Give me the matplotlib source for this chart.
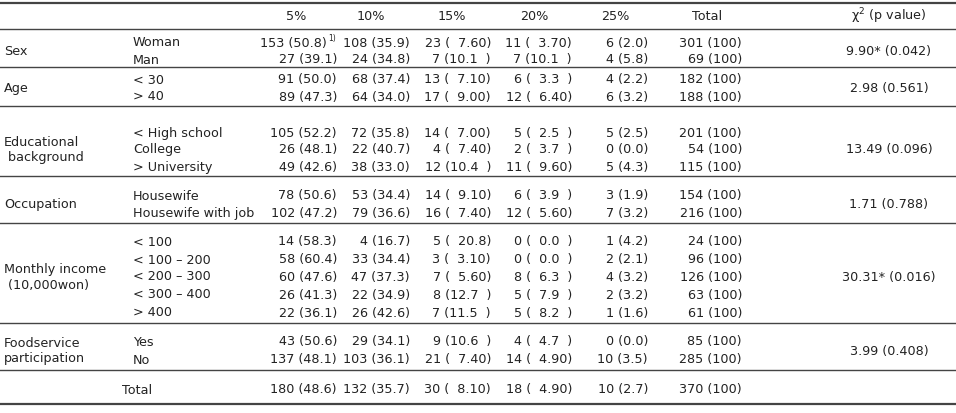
import matplotlib
matplotlib.use("Agg")
import matplotlib.pyplot as plt

columns = ["5%", "10%", "15%", "20%", "25%", "Total", "χ$^2$ (p value)"]
groups = ["Sex", "Age", "Educational\n background", "Occupation",
          "Monthly income\n (10,000won)", "Foodservice\nparticipation"]
subcats = [["Woman", "Man"], ["< 30", "> 40"],
           ["< High school", "College", "> University"],
           ["Housewife", "Housewife with job"],
           ["< 100", "< 100 – 200", "< 200 – 300", "< 300 – 400", "> 400"],
           ["Yes", "No"]]
col5 = ["153 (50.8)", "27 (39.1)", "91 (50.0)", "89 (47.3)", "105 (52.2)", "26 (48.1)", "49 (42.6)",
        "78 (50.6)", "102 (47.2)", "14 (58.3)", "58 (60.4)", "60 (47.6)", "26 (41.3)", "22 (36.1)",
        "43 (50.6)", "137 (48.1)"]
col10 = ["108 (35.9)", "24 (34.8)", "68 (37.4)", "64 (34.0)", "72 (35.8)", "22 (40.7)", "38 (33.0)",
         "53 (34.4)", "79 (36.6)", "4 (16.7)", "33 (34.4)", "47 (37.3)", "22 (34.9)", "26 (42.6)",
         "29 (34.1)", "103 (36.1)"]
col15 = ["23 (  7.60)", "7 (10.1  )", "13 (  7.10)", "17 (  9.00)", "14 (  7.00)", "4 (  7.40)", "12 (10.4  )",
         "14 (  9.10)", "16 (  7.40)", "5 (  20.8)", "3 (  3.10)", "7 (  5.60)", "8 (12.7  )", "7 (11.5  )",
         "9 (10.6  )", "21 (  7.40)"]
col20 = ["11 (  3.70)", "7 (10.1  )", "6 (  3.3  )", "12 (  6.40)", "5 (  2.5  )", "2 (  3.7  )", "11 (  9.60)",
         "6 (  3.9  )", "12 (  5.60)", "0 (  0.0  )", "0 (  0.0  )", "8 (  6.3  )", "5 (  7.9  )", "5 (  8.2  )",
         "4 (  4.7  )", "14 (  4.90)"]
col25 = ["6 (2.0)", "4 (5.8)", "4 (2.2)", "6 (3.2)", "5 (2.5)", "0 (0.0)", "5 (4.3)", "3 (1.9)", "7 (3.2)",
         "1 (4.2)", "2 (2.1)", "4 (3.2)", "2 (3.2)", "1 (1.6)", "0 (0.0)", "10 (3.5)"]
coltot = ["301 (100)", "69 (100)", "182 (100)", "188 (100)", "201 (100)", "54 (100)", "115 (100)",
          "154 (100)", "216 (100)", "24 (100)", "96 (100)", "126 (100)", "63 (100)", "61 (100)",
          "85 (100)", "285 (100)"]
chi = ["9.90* (0.042)", "2.98 (0.561)", "13.49 (0.096)", "1.71 (0.788)", "30.31* (0.016)", "3.99 (0.408)"]
total_row = ["180 (48.6)", "132 (35.7)", "30 (  8.10)", "18 (  4.90)", "10 (2.7)", "370 (100)"]

fig = plt.figure(figsize=(9.56, 4.13), dpi=100)
ax = fig.add_axes([0, 0, 1, 1])
ax.set_xlim(0, 956); ax.set_ylim(413, 0); ax.axis("off")
fs = 9.2
font = "DejaVu Sans"
kw = dict(fontsize=fs, family=font, color="#222222", va="center")

right_edges = [337, 410, 491, 572, 648, 742]
hdr_centers = [296, 371, 452, 534, 615, 707, 889]
for c, x in zip(columns, hdr_centers):
    ax.text(x, 16, c, ha="center", **kw)

lw_thick, lw = 1.6, 1.0
ax.plot([0, 956], [3, 3], color="#444", lw=lw_thick)
ax.plot([0, 956], [29, 29], color="#444", lw=lw)

group_rows = [[43, 60], [80, 97], [133, 150, 167], [196, 213], [242, 260, 277, 295, 313], [342, 360]]
sep_lines = [67, 106, 176, 223, 323, 370]
datacols = [col5, col10, col15, col20, col25, coltot]
k = 0
for gi, (g, subs, ys) in enumerate(zip(groups, subcats, group_rows)):
    ymid = sum(ys) / len(ys)
    ax.text(4, ymid, g, ha="left", linespacing=1.25, **kw)
    ax.text(889, ymid, chi[gi], ha="center", **kw)
    for s, y in zip(subs, ys):
        ax.text(133, y, s, ha="left", **kw)
        for ci, (col, xr) in enumerate(zip(datacols, right_edges)):
            x = xr - 10 if (k == 0 and ci == 0) else xr
            ax.text(x, y, col[k], ha="right", **kw)
        k += 1
    ax.plot([0, 956], [sep_lines[gi]] * 2, color="#444", lw=lw)

ax.text(328, 38, "1)", fontsize=5.5, family=font, color="#222", ha="left", va="center")
ax.text(122, 390, "Total", ha="left", **kw)
for v, xr in zip(total_row, right_edges):
    ax.text(xr, 390, v, ha="right", **kw)
ax.plot([0, 956], [404, 404], color="#444", lw=lw_thick)

fig.savefig("out.png", dpi=100)
